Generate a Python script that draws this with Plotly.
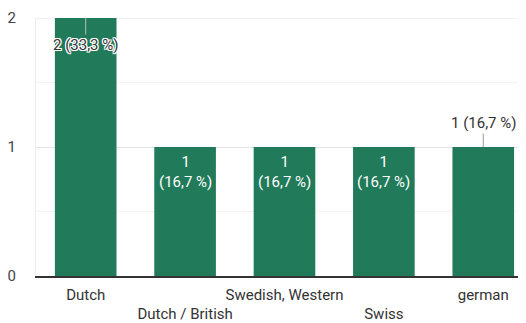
import plotly.graph_objects as go

categories = ["Dutch", "Dutch / British", "Swedish, Western", "Swiss", "german"]
counts = [2, 1, 1, 1, 1]
percent_labels = ["33,3 %", "16,7 %", "16,7 %", "16,7 %", "16,7 %"]
tick_labels = ["Dutch", "<br>Dutch / British", "Swedish, Western", "<br>Swiss", "german"]

GREEN = "#217a5a"
FONT = "Roboto"

fig = go.Figure()
fig.add_trace(go.Bar(x=categories, y=counts, marker=dict(color=GREEN, line=dict(width=0)),
                     width=0.62, hoverinfo="skip"))

halo = ", ".join(f"{dx}px {dy}px 0 white" for dx in (-1, 0, 1) for dy in (-1, 0, 1) if dx or dy)

annotations = []
for i, (c, v, p) in enumerate(zip(categories, counts, percent_labels)):
    if i == 0:
        annotations.append(dict(x=c, y=v, text=f"{v} ({p})", showarrow=True, arrowhead=0,
                                arrowwidth=1, arrowcolor="#bbbbbb", ax=0, ay=27,
                                font=dict(family=FONT, size=15, color="#333333", shadow=halo)))
    elif i == len(categories) - 1:
        annotations.append(dict(x=c, y=v, text=f"{v} ({p})", showarrow=True, arrowhead=0,
                                arrowwidth=1, arrowcolor="#999999", ax=0, ay=-24,
                                font=dict(family=FONT, size=15, color="#333333")))
    else:
        annotations.append(dict(x=c, y=v, text=f"{v}<br>({p})", showarrow=False,
                                yanchor="top", yshift=-4,
                                font=dict(family=FONT, size=15, color="white")))

fig.update_layout(
    width=518, height=315,
    margin=dict(l=28, r=0, t=10, b=47),
    paper_bgcolor="white", plot_bgcolor="white",
    showlegend=False,
    annotations=annotations,
    font=dict(family=FONT, size=15, color="#444444"),
    xaxis=dict(range=[-0.5, 4.43], tickmode="array", tickvals=categories, ticktext=tick_labels,
               tickangle=0, automargin=False, ticklabelstandoff=4,
               showline=True, linecolor="#333333", linewidth=1.5, showgrid=False,
               ticks="", tickfont=dict(family=FONT, size=15, color="#333333"), fixedrange=True),
    yaxis=dict(range=[0, 2], tickvals=[0, 1, 2], showgrid=True, gridcolor="#e3e3e3",
               minor=dict(dtick=0.5, showgrid=True, gridcolor="#f3f3f3", ticks=""),
               zeroline=False, showline=True, linecolor="#ececec", linewidth=1,
               ticks="", ticklabelstandoff=16, automargin=False,
               tickfont=dict(family=FONT, size=15, color="#444444"), fixedrange=True),
)
fig.add_shape(type="line", xref="paper", yref="y", x0=0, x1=1, y0=2, y1=2,
              line=dict(color="#e3e3e3", width=1), layer="below")

fig.write_html("out.html")
